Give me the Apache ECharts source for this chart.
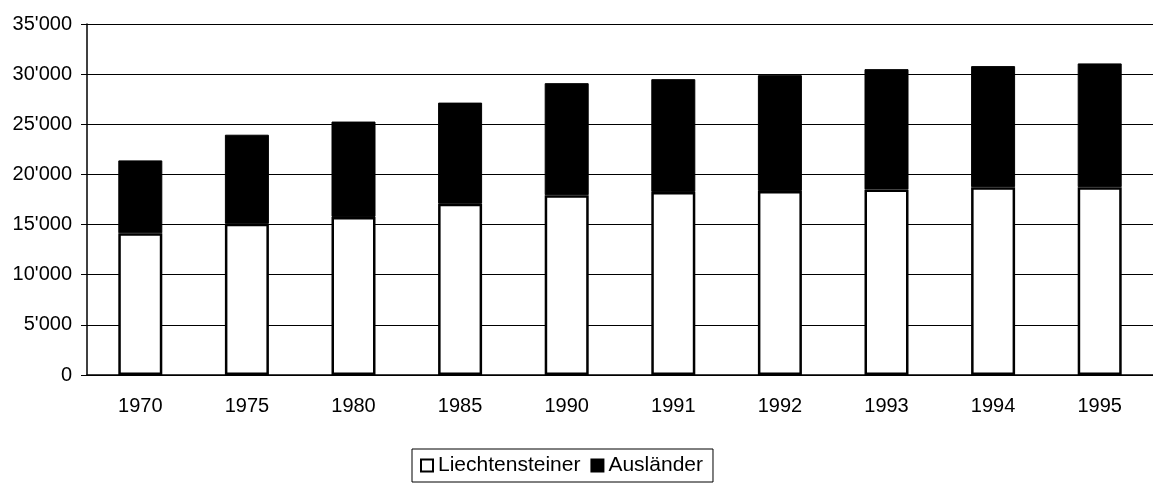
<!DOCTYPE html>
<html>
<head>
<meta charset="utf-8">
<script src="https://cdn.jsdelivr.net/npm/echarts@6/dist/echarts.min.js"></script>
<style>
  html, body { margin: 0; padding: 0; background: #fff; }
  #main { width: 1153px; height: 489px; }
</style>
</head>
<body>
<div id="main"></div>
<script>
var years = ['1970', '1975', '1980', '1985', '1990', '1991', '1992', '1993', '1994', '1995'];
var liechtensteiner = [14130, 15070, 15760, 17070, 17930, 18240, 18340, 18500, 18730, 18730];
var auslaender = [7270, 8890, 9510, 10090, 11170, 11260, 11560, 12000, 12070, 12340];
var seriesNames = ['Liechtensteiner', 'Ausländer'];

// Tausendertrennzeichen als Apostroph
function fmt(v) {
    return String(v).replace(/\B(?=(\d{3})+(?!\d))/g, "'");
}

var chart = echarts.init(document.getElementById('main'));
var option = {
    animation: false,
    textStyle: { fontFamily: 'Liberation Sans, Arial, sans-serif', color: '#000' },
    grid: { left: 87, top: 24, width: 1067, height: 351 },
    legend: {
        data: seriesNames,
        left: 412,
        top: 449,
        itemWidth: 12,
        itemHeight: 12,
        itemGap: 10,
        padding: [6, 10, 6, 8],
        borderColor: '#000',
        borderWidth: 1,
        borderRadius: 0,
        textStyle: { fontSize: 21, color: '#000' },
        icon: 'rect'
    },
    xAxis: {
        type: 'category',
        data: years,
        axisLine: { lineStyle: { color: '#000', width: 1.5 } },
        axisTick: { inside: true, length: 7, lineStyle: { color: '#000' } },
        axisLabel: { fontSize: 20, color: '#000', margin: 21 }
    },
    yAxis: {
        type: 'value',
        min: 0,
        max: 35000,
        interval: 5000,
        axisLine: { show: true, lineStyle: { color: '#000', width: 1.5 } },
        axisTick: { show: true, length: 6, lineStyle: { color: '#000' } },
        splitLine: { lineStyle: { color: '#000', width: 1.2 } },
        axisLabel: { fontSize: 20, color: '#000', margin: 15, formatter: fmt }
    },
    series: [
        {
            name: seriesNames[0],
            type: 'bar',
            stack: 'pop',
            data: liechtensteiner,
            barWidth: 44,
            itemStyle: { color: '#fff', borderColor: '#000', borderWidth: 2.5 }
        },
        {
            name: seriesNames[1],
            type: 'bar',
            stack: 'pop',
            data: auslaender,
            barWidth: 44,
            itemStyle: { color: '#000', borderColor: '#000', borderWidth: 1 }
        }
    ]
};
chart.setOption(option);
</script>
</body>
</html>
